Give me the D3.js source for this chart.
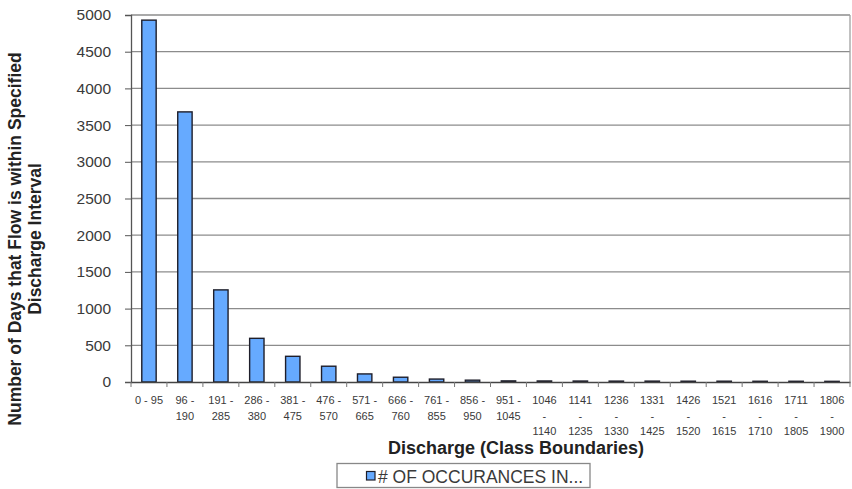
<!DOCTYPE html>
<html><head><meta charset="utf-8">
<script src="https://cdn.jsdelivr.net/npm/d3@7"></script>
<style>
body{margin:0;background:#fff;}
svg{display:block;font-family:"Liberation Sans",Arial,sans-serif;}
</style></head>
<body><svg id="c" width="852" height="489"></svg>
<script>
const categories = ["0 - 95","96 - 190","191 - 285","286 - 380","381 - 475","476 - 570","571 - 665","666 - 760","761 - 855","856 - 950","951 - 1045","1046 - 1140","1141 - 1235","1236 - 1330","1331 - 1425","1426 - 1520","1521 - 1615","1616 - 1710","1711 - 1805","1806 - 1900"];
const occurrences = [4930,3680,1255,595,350,215,110,65,40,25,15,14,13,12,12,11,11,10,10,9];
const yTicks = [0,500,1000,1500,2000,2500,3000,3500,4000,4500,5000];
const seriesName = "# OF OCCURANCES IN...";
const xTitle = "Discharge (Class Boundaries)";
const yTitleLines = ["Number of Days that Flow is within Specified","Discharge Interval"];

const svg = d3.select("#c");
const L=131, R=850, T=15, B=382;
const x = d3.scaleBand().domain(categories).range([L,R]).paddingInner(0.6).paddingOuter(0.3);
const y = d3.scaleLinear().domain([0,5000]).range([B,T]);

// gridlines
svg.append("g").selectAll("line").data(yTicks.filter(d=>d>0)).join("line")
  .attr("x1",L).attr("x2",R).attr("y1",d=>y(d)).attr("y2",d=>y(d))
  .attr("stroke","#8c8c8c").attr("stroke-width",1.3);
// right border
svg.append("line").attr("x1",R).attr("x2",R).attr("y1",T).attr("y2",B).attr("stroke","#a0a0a0").attr("stroke-width",1.3);

// bars
svg.append("g").selectAll("rect").data(occurrences).join("rect")
  .attr("x",(d,i)=>x(categories[i])).attr("width",x.bandwidth())
  .attr("y",d=>y(d)).attr("height",d=>B-y(d))
  .attr("fill","#66aaff").attr("stroke","#1e1e2a").attr("stroke-width",1.4);

// y axis
const ya = svg.append("g").attr("transform",`translate(${L},0)`)
  .call(d3.axisLeft(y).tickValues(yTicks).tickSize(6).tickPadding(14).tickFormat(d3.format("d")));
ya.select(".domain").attr("stroke","#555").attr("stroke-width",1.3);
ya.selectAll(".tick line").attr("stroke","#555");
ya.selectAll("text").attr("font-size",15.5).attr("fill","#3a3a3a").attr("font-family","Liberation Sans, Arial, sans-serif");

// x axis
const xa = svg.append("g").attr("transform",`translate(0,${B})`)
  .call(d3.axisBottom(x).tickSize(0).tickFormat(""));
xa.select(".domain").attr("stroke","#444").attr("stroke-width",1.5);
// boundary ticks
const step = x.step();
svg.append("g").selectAll("line").data(d3.range(categories.length+1)).join("line")
  .attr("x1",i=>L+i*step).attr("x2",i=>L+i*step).attr("y1",B).attr("y2",B+5)
  .attr("stroke","#777").attr("stroke-width",1);

// x labels with wrapping
function wrapLines(lbl){
  const p = lbl.split(" - ");
  if (lbl.length<=6) return [lbl];
  if (p[0].length<=3) return [p[0]+" -", p[1]];
  return [p[0],"-",p[1]];
}
const xl = svg.append("g");
categories.forEach(c=>{
  const cx = x(c)+x.bandwidth()/2;
  const t = xl.append("text").attr("text-anchor","middle").attr("font-size",11).attr("fill","#3a3a3a");
  wrapLines(c).forEach((ln,i)=>{
    t.append("tspan").attr("x",cx).attr("y",404+i*15.5).text(ln);
  });
});

// x title
svg.append("text").attr("x",516).attr("y",454).attr("text-anchor","middle")
  .attr("font-size",18).attr("font-weight","bold").attr("fill","#222").text(xTitle);

// y title
const yt = svg.append("text").attr("transform","translate(0,239) rotate(-90)")
  .attr("text-anchor","middle").attr("font-size",17.5).attr("font-weight","bold").attr("fill","#222");
yTitleLines.forEach((ln,i)=>yt.append("tspan").attr("x",0).attr("y",21+i*19.5).text(ln));

// legend
const lg = svg.append("g");
lg.append("rect").attr("x",337).attr("y",463.5).attr("width",253).attr("height",24)
  .attr("fill","#fff").attr("stroke","#888").attr("stroke-width",1.3);
lg.append("rect").attr("x",366.5).attr("y",471.5).attr("width",8.5).attr("height",8.5)
  .attr("fill","#66aaff").attr("stroke","#1e1e2a").attr("stroke-width",1.2);
lg.append("text").attr("x",378).attr("y",483).attr("font-size",17.5).attr("fill","#3a3a3a").text(seriesName);
</script></body></html>
